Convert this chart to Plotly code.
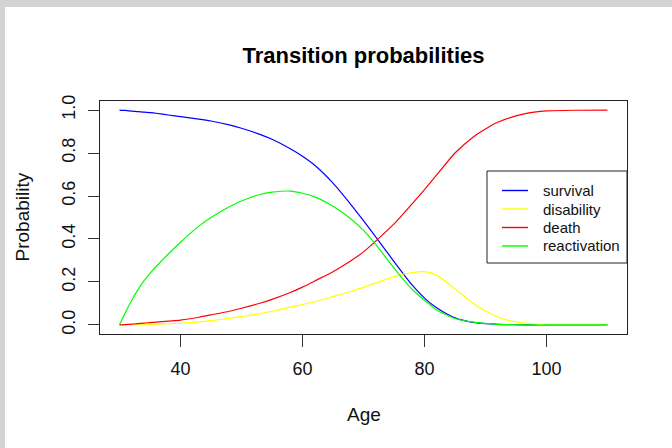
import plotly.graph_objects as go

ages = [30, 31, 32, 33, 34, 35, 36, 38, 40, 43, 45, 48, 50, 53, 55, 58, 60, 62, 65,
        68, 70, 72, 75, 78, 80, 82, 85, 88, 90, 92, 95, 98, 100, 105, 110]

survival = [1.0, 0.998, 0.995, 0.993, 0.99, 0.988, 0.985, 0.977, 0.969, 0.958,
            0.949, 0.931, 0.915, 0.887, 0.864, 0.82, 0.785, 0.743, 0.66,
            0.558, 0.485, 0.41, 0.295, 0.185, 0.125, 0.08, 0.033, 0.012,
            0.006, 0.003, 0.001, 0.0, 0.0, 0.0, 0.0]

disability = [0.0, 0.0005, 0.001, 0.002, 0.0025, 0.003, 0.004, 0.006, 0.008, 0.014,
              0.02, 0.031, 0.039, 0.053, 0.064, 0.083, 0.095, 0.108, 0.132,
              0.157, 0.175, 0.195, 0.225, 0.244, 0.248, 0.232, 0.168, 0.10,
              0.065, 0.037, 0.014, 0.004, 0.001, 0.0, 0.0]

death = [0.0, 0.002, 0.004, 0.006, 0.009, 0.011, 0.013, 0.018, 0.023, 0.036,
         0.047, 0.064, 0.078, 0.101, 0.119, 0.151, 0.176, 0.205, 0.248,
         0.30, 0.34, 0.39, 0.47, 0.565, 0.63, 0.698, 0.80, 0.875,
         0.912, 0.943, 0.973, 0.99, 0.996, 0.999, 1.0]

reactivation = [0.0, 0.06, 0.115, 0.163, 0.205, 0.24, 0.272, 0.33, 0.385, 0.46,
                0.50, 0.55, 0.577, 0.607, 0.618, 0.623, 0.613, 0.596, 0.552,
                0.492, 0.44, 0.375, 0.265, 0.165, 0.115, 0.07, 0.03, 0.013,
                0.007, 0.003, 0.001, 0.0, 0.0, 0.0, 0.0]

series = [("survival", survival, "#0000FF"),
          ("disability", disability, "#FFFF00"),
          ("death", death, "#FF0000"),
          ("reactivation", reactivation, "#00FF00")]

x_ticks = [40, 60, 80, 100]
y_ticks = [0.0, 0.2, 0.4, 0.6, 0.8, 1.0]
y_tick_text = ["0.0", "0.2", "0.4", "0.6", "0.8", "1.0"]

FONT = "Liberation Sans, Arial, sans-serif"

fig = go.Figure()
for name, vals, col in series:
    fig.add_trace(go.Scatter(x=ages, y=vals, mode="lines", name=name,
                             line=dict(color=col, width=1.2, shape="spline",
                                       smoothing=0.6),
                             showlegend=False))

# page offset: body margin 7px top, 5px left (grey frame)
OX, OY = 5, 7
W, H = 672 - OX, 448 - OY
L, T = 100 - OX, 101 - OY
pw, ph = 527, 233
R, B = W - L - pw, H - T - ph

def px_x(p):  # window pixel -> paper x
    return (p - 100) / pw

def px_y(p):  # window pixel -> paper y
    return (334 - p) / ph

fig.update_layout(
    width=W, height=H,
    margin=dict(l=L, r=R, t=T, b=B, pad=0),
    paper_bgcolor="white", plot_bgcolor="white",
    font=dict(family=FONT, color="#000000"),
    title=dict(text="<b>Transition probabilities</b>", x=0.5, xref="paper",
               xanchor="center", y=1 - (55 - OY) / H, yanchor="middle",
               font=dict(size=22, family=FONT, color="#000000")),
    xaxis=dict(range=[26.8, 113.2], tickvals=x_ticks, showgrid=False, zeroline=False,
               showline=True, mirror=True, linecolor="#222222", linewidth=1,
               ticks="outside", ticklen=12, tickcolor="#333333", tickwidth=1,
               tickfont=dict(size=18, color="#111111"), ticklabelstandoff=6),
    yaxis=dict(range=[-0.042, 1.042], tickvals=y_ticks, ticktext=y_tick_text,
               showgrid=False, zeroline=False,
               showline=True, mirror=True, linecolor="#222222", linewidth=1,
               ticks="outside", ticklen=11, tickcolor="#333333", tickwidth=1,
               tickangle=-90, tickfont=dict(size=18, color="#111111"),
               ticklabelstandoff=6),
    showlegend=False,
)

fig.add_annotation(text="Age", xref="paper", yref="paper", x=0.5,
                   y=px_y(414), xanchor="center", yanchor="middle",
                   showarrow=False, font=dict(size=19, family=FONT, color="#111111"))
fig.add_annotation(text="Probability", xref="paper", yref="paper",
                   x=px_x(22), y=0.5, xanchor="center", yanchor="middle",
                   textangle=-90, showarrow=False,
                   font=dict(size=19, family=FONT, color="#111111"))

# legend box (drawn as in base R)
fig.add_shape(type="rect", xref="paper", yref="paper",
              x0=px_x(487), x1=px_x(627), y0=px_y(263), y1=px_y(171),
              fillcolor="white", line=dict(color="#222222", width=1))
leg_rows = [190.5, 209, 227.5, 246]
for (name, _, col), ry in zip(series, leg_rows):
    fig.add_shape(type="line", xref="paper", yref="paper",
                  x0=px_x(502), x1=px_x(528), y0=px_y(ry), y1=px_y(ry),
                  line=dict(color=col, width=1.4))
    fig.add_annotation(text=name, xref="paper", yref="paper",
                       x=px_x(541), y=px_y(ry), xanchor="left", yanchor="middle",
                       showarrow=False,
                       font=dict(size=15, family=FONT, color="#111111"))

post = ("document.body.style.margin='%dpx 0 0 %dpx';"
        "document.body.style.background='#d3d3d3';"
        "document.documentElement.style.background='#d3d3d3';"
        "document.body.style.overflow='hidden';") % (OY, OX)

fig.write_html("out.html", post_script=post)
